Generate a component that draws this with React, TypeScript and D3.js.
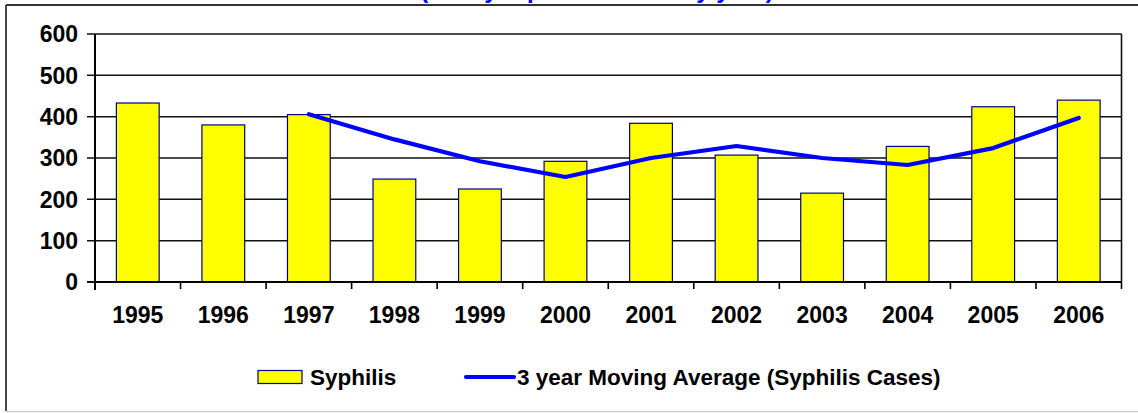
import React from "react";
import * as d3 from "d3";

const years = ["1995","1996","1997","1998","1999","2000","2001","2002","2003","2004","2005","2006"];
const syphilis = [433, 380, 405, 249, 225, 292, 384, 307, 215, 328, 424, 440];
const movingAvg: (number | null)[] = [null, null, 406, 345, 292, 254, 300, 329, 300, 283, 324, 397];
const yTicks = [0, 100, 200, 300, 400, 500, 600];
const titleText = "(Newly reported cases by year)";
const legendBar = "Syphilis";
const legendLine = "3 year Moving Average (Syphilis Cases)";

const W = 1138, H = 413;
const left = 95, right = 1121.5, top = 34, bottom = 282;
const FONT = "'Liberation Sans', Arial, sans-serif";

export default function App() {
  const x = d3.scaleBand<string>().domain(years).range([left, right]).paddingInner(0.5).paddingOuter(0.25);
  const band = d3.scaleBand<string>().domain(years).range([left, right]);
  const y = d3.scaleLinear().domain([0, 600]).range([bottom, top]);
  const pts = years.map((yr, i) => ({ yr, v: movingAvg[i] }));
  const line = d3.line<{ yr: string; v: number | null }>()
    .defined(d => d.v != null)
    .x(d => (band(d.yr) as number) + band.bandwidth() / 2)
    .y(d => y(d.v as number));
  const tickXs = years.map(yr => band(yr) as number).concat([right]);

  return (
    <svg width={W} height={H} style={{ position: "absolute", left: 0, top: 0, background: "#fff" }}>
      <rect x={0} y={0} width={W} height={H} fill="#fff" />
      {/* outer chart border */}
      <line x1={6} y1={5} x2={W} y2={5} stroke="#333" strokeWidth={1.8} />
      <line x1={6} y1={5} x2={6} y2={411} stroke="#333" strokeWidth={1.8} />
      <line x1={6} y1={411.5} x2={W} y2={411.5} stroke="#ccc" strokeWidth={1.5} />
      {/* title (cut off at top, as in the source) */}
      <text x={597} y={-2} textAnchor="middle" fill="#0000ff" fontFamily={FONT} fontWeight="bold" fontSize={24}>{titleText}</text>
      {/* gridlines */}
      {yTicks.map(t => (
        <line key={t} x1={left - 8} x2={right} y1={y(t)} y2={y(t)} stroke="#111" strokeWidth={t === 0 ? 2 : 1.5} />
      ))}
      {/* right border of plot */}
      <line x1={right} x2={right} y1={top} y2={bottom} stroke="#111" strokeWidth={1.6} />
      {/* bars */}
      {years.map((yr, i) => (
        <rect key={yr} x={x(yr)} y={y(syphilis[i])} width={x.bandwidth()} height={bottom - y(syphilis[i])}
          fill="#ffff00" stroke="#000080" strokeWidth={1.2} />
      ))}
      {/* axes */}
      <line x1={left} x2={left} y1={top} y2={bottom + 8} stroke="#000" strokeWidth={2} />
      <line x1={left - 1} x2={right} y1={bottom} y2={bottom} stroke="#000" strokeWidth={2} />
      {tickXs.map((tx, i) => (
        <line key={i} x1={tx} x2={tx} y1={bottom} y2={bottom + 7} stroke="#000" strokeWidth={1.6} />
      ))}
      {yTicks.map(t => (
        <text key={t} x={78} y={y(t)} dy="0.36em" textAnchor="end" fontFamily={FONT} fontWeight="bold" fontSize={23} fill="#000">{t}</text>
      ))}
      {years.map(yr => (
        <text key={yr} x={(band(yr) as number) + band.bandwidth() / 2} y={323} textAnchor="middle" fontFamily={FONT} fontWeight="bold" fontSize={23} fill="#000">{yr}</text>
      ))}
      {/* moving average line */}
      <path d={line(pts) || ""} fill="none" stroke="#0000ff" strokeWidth={4.2} strokeLinejoin="round" strokeLinecap="round" />
      {/* legend */}
      <rect x={258} y={370.5} width={44} height={13} fill="#ffff00" stroke="#000080" strokeWidth={1.2} />
      <text x={310} y={385} fontFamily={FONT} fontWeight="bold" fontSize={22.5} fill="#000">{legendBar}</text>
      <line x1={466} x2={514} y1={377} y2={377} stroke="#0000ff" strokeWidth={4.2} strokeLinecap="round" />
      <text x={517} y={385} fontFamily={FONT} fontWeight="bold" fontSize={22.5} fill="#000">{legendLine}</text>
    </svg>
  );
}
